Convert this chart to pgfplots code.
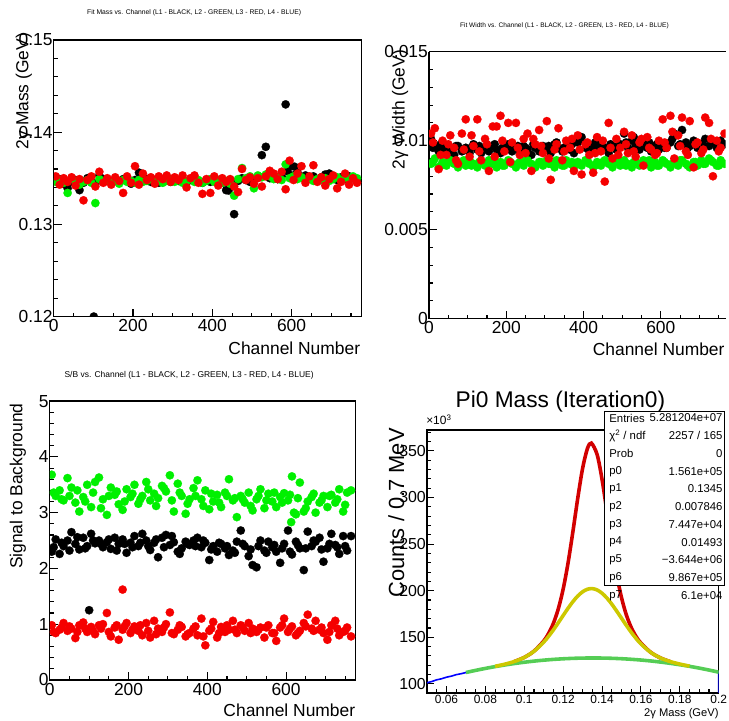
\documentclass[border=0pt]{standalone}
\usepackage{pgfplots}
\pgfplotsset{compat=1.18}
\usepackage{pgfplotstable}
\usepackage{fontspec}
\setmainfont{Liberation Sans}

\definecolor{rgreen}{RGB}{0,240,0}
\definecolor{rred}{RGB}{245,0,0}
\definecolor{fred}{RGB}{210,0,0}
\definecolor{fyel}{RGB}{205,200,0}
\definecolor{fgrn}{RGB}{85,205,85}
\definecolor{fblu}{RGB}{0,0,255}

\newcommand\fbig{\fontsize{17.5}{21}\selectfont}

\pgfplotstableread{
x k g r
5 0.1347 0.1346 0.1352
15 0.1349 0.1348 0.1343
25 0.1344 0.1345 0.1350
35 0.1339 0.1334 0.1346
45 0.1346 0.1349 0.1351
55 0.1348 0.1347 0.1342
65 0.1337 0.1343 0.1349
75 0.1345 0.1346 0.1326
85 0.1350 0.1348 0.1348
95 0.1346 0.1345 0.1352
105 0.1344 0.1323 0.1341
115 0.1353 0.1349 0.1357
125 0.1349 0.1346 0.1345
135 0.1347 0.1348 0.1350
145 0.1345 0.1345 0.1343
155 0.1348 0.1347 0.1351
165 0.1346 0.1344 0.1347
175 0.1349 0.1348 0.1334
185 0.1347 0.1346 0.1352
195 0.1344 0.1347 0.1345
205 0.1348 0.1345 0.1363
215 0.1356 0.1348 0.1343
225 0.1347 0.1346 0.1355
235 0.1349 0.1347 0.1348
245 0.1346 0.1349 0.1351
255 0.1348 0.1346 0.1344
265 0.1345 0.1348 0.1352
275 0.1347 0.1345 0.1349
285 0.1349 0.1347 0.1353
295 0.1346 0.1349 0.1346
305 0.1348 0.1346 0.1351
315 0.1347 0.1348 0.1348
325 0.1349 0.1345 0.1353
335 0.1346 0.1347 0.1340
345 0.1348 0.1349 0.1350
355 0.1350 0.1346 0.1353
365 0.1347 0.1348 0.1345
375 0.1345 0.1345 0.1333
385 0.1348 0.1347 0.1349
395 0.1346 0.1349 0.1334
405 0.1349 0.1346 0.1352
415 0.1347 0.1348 0.1342
425 0.1345 0.1345 0.1350
435 0.1337 0.1347 0.1346
445 0.1348 0.1344 0.1349
455 0.1311 0.1331 0.1341
465 0.1347 0.1349 0.1335
475 0.1350 0.1361 0.1360
485 0.1348 0.1350 0.1348
495 0.1346 0.1352 0.1351
505 0.1349 0.1339 0.1344
515 0.1352 0.1353 0.1350
525 0.1375 0.1351 0.1341
535 0.1384 0.1354 0.1352
545 0.1350 0.1352 0.1358
555 0.1353 0.1349 0.1355
565 0.1349 0.1351 0.1349
575 0.1352 0.1348 0.1357
585 0.1430 0.1365 0.1338
595 0.1363 0.1350 0.1369
605 0.1353 0.1352 0.1348
615 0.1356 0.1349 0.1355
625 0.1351 0.1351 0.1363
635 0.1353 0.1348 0.1345
645 0.1350 0.1350 0.1352
655 0.1352 0.1347 0.1364
665 0.1349 0.1349 0.1346
675 0.1351 0.1348 0.1351
685 0.1354 0.1350 0.1342
695 0.1355 0.1347 0.1349
705 0.1350 0.1349 0.1353
715 0.1348 0.1351 0.1339
725 0.1351 0.1348 0.1346
735 0.1349 0.1350 0.1355
745 0.1352 0.1349 0.1343
755 0.1350 0.1352 0.1350
765 0.1348 0.1350 0.1345
}\massdata

\pgfplotstableread{
x k g r
5 0.0101 0.0087 0.0104
15 0.0097 0.0090 0.0107
25 0.0094 0.0085 0.0084
35 0.0096 0.0088 0.0100
45 0.0093 0.0086 0.0092
55 0.0095 0.0089 0.0103
65 0.0092 0.0087 0.0096
75 0.0097 0.0085 0.0087
85 0.0094 0.0088 0.0104
95 0.0096 0.0086 0.0112
105 0.0093 0.0089 0.0091
115 0.0098 0.0087 0.0097
125 0.0095 0.0085 0.0112
135 0.0093 0.0088 0.0089
145 0.0096 0.0086 0.0101
155 0.0094 0.0089 0.0083
165 0.0097 0.0087 0.0108
175 0.0095 0.0085 0.0108
185 0.0093 0.0088 0.0114
195 0.0096 0.0086 0.0094
205 0.0098 0.0089 0.0110
215 0.0094 0.0087 0.0099
225 0.0096 0.0085 0.0110
235 0.0093 0.0088 0.0092
245 0.0097 0.0086 0.0101
255 0.0095 0.0089 0.0104
265 0.0092 0.0087 0.0083
275 0.0096 0.0085 0.0098
285 0.0094 0.0088 0.0106
295 0.0097 0.0086 0.0093
305 0.0095 0.0089 0.0111
315 0.0093 0.0087 0.0078
325 0.0098 0.0085 0.0095
335 0.0096 0.0088 0.0107
345 0.0094 0.0086 0.0089
355 0.0097 0.0089 0.0100
365 0.0095 0.0087 0.0096
375 0.0093 0.0085 0.0083
385 0.0099 0.0088 0.0103
395 0.0102 0.0086 0.0081
405 0.0096 0.0089 0.0098
415 0.0094 0.0087 0.0092
425 0.0097 0.0085 0.0082
435 0.0095 0.0088 0.0102
445 0.0098 0.0086 0.0094
455 0.0096 0.0089 0.0077
465 0.0093 0.0087 0.0110
475 0.0097 0.0085 0.0090
485 0.0095 0.0088 0.0101
495 0.0098 0.0086 0.0096
505 0.0104 0.0089 0.0105
515 0.0096 0.0087 0.0093
525 0.0100 0.0085 0.0103
535 0.0097 0.0088 0.0091
545 0.0095 0.0086 0.0099
555 0.0099 0.0089 0.0086
565 0.0096 0.0087 0.0102
575 0.0094 0.0085 0.0095
585 0.0097 0.0088 0.0092
595 0.0095 0.0086 0.0100
605 0.0098 0.0089 0.0112
615 0.0096 0.0087 0.0096
625 0.0099 0.0085 0.0114
635 0.0104 0.0088 0.0090
645 0.0097 0.0086 0.0103
655 0.0106 0.0089 0.0113
665 0.0099 0.0087 0.0094
675 0.0097 0.0085 0.0111
685 0.0100 0.0088 0.0085
695 0.0096 0.0086 0.0099
705 0.0098 0.0089 0.0093
715 0.0101 0.0087 0.0113
725 0.0097 0.0090 0.0110
735 0.0099 0.0088 0.0080
745 0.0096 0.0086 0.0100
755 0.0100 0.0089 0.0096
765 0.0098 0.0087 0.0104
}\widthdata

\pgfplotstableread{
x k g r
10 0.0096 0.0088 0.0099
30 0.0098 0.0086 0.0092
50 0.0095 0.0088 0.0098
70 0.0097 0.0087 0.0089
90 0.0095 0.0089 0.0095
110 0.0096 0.0086 0.0103
130 0.0097 0.0088 0.0094
150 0.0095 0.0087 0.0098
170 0.0098 0.0089 0.0091
190 0.0096 0.0086 0.0100
210 0.0095 0.0088 0.0088
230 0.0097 0.0087 0.0096
250 0.0096 0.0089 0.0093
270 0.0098 0.0086 0.0101
290 0.0095 0.0088 0.0097
310 0.0097 0.0087 0.0090
330 0.0099 0.0089 0.0098
350 0.0096 0.0086 0.0094
370 0.0098 0.0088 0.0101
390 0.0100 0.0087 0.0095
410 0.0097 0.0089 0.0099
430 0.0099 0.0086 0.0093
450 0.0096 0.0088 0.0100
470 0.0098 0.0087 0.0096
490 0.0097 0.0089 0.0092
510 0.0099 0.0086 0.0098
530 0.0102 0.0088 0.0094
550 0.0097 0.0087 0.0101
570 0.0099 0.0089 0.0096
590 0.0098 0.0086 0.0093
610 0.0096 0.0088 0.0099
630 0.0101 0.0087 0.0105
650 0.0098 0.0089 0.0097
670 0.0096 0.0086 0.0092
690 0.0099 0.0088 0.0098
710 0.0097 0.0087 0.0095
730 0.0100 0.0089 0.0101
750 0.0098 0.0086 0.0094
}\widthdatab

\pgfplotstableread{
x k g r
5 2.30 3.68 0.98
15 2.52 3.30 0.84
25 2.26 3.40 0.90
35 2.40 3.22 1.02
45 2.50 3.62 0.88
55 2.65 3.45 0.92
65 2.44 3.18 0.75
75 2.34 3.02 0.98
85 2.55 3.28 1.03
95 2.40 3.50 0.86
105 2.62 3.10 0.95
115 2.45 3.55 0.82
125 2.50 3.63 0.98
135 2.38 3.24 1.00
145 2.47 2.96 1.20
155 2.35 3.45 0.78
165 2.55 3.32 0.94
175 2.44 3.15 0.72
185 2.52 3.05 0.90
195 2.28 3.42 1.02
205 2.46 3.28 0.84
215 2.58 3.50 0.96
225 2.40 3.16 0.88
235 2.62 3.30 0.80
245 2.50 3.55 1.02
255 2.33 3.22 0.76
265 2.46 3.34 1.06
275 2.20 3.26 0.92
285 2.55 3.48 0.86
295 2.60 3.38 1.00
305 2.42 3.67 1.21
315 2.47 3.02 0.82
325 2.30 3.52 0.90
335 2.36 3.30 0.95
345 2.48 2.98 0.78
355 2.42 3.24 0.84
365 2.50 3.44 0.92
375 2.55 3.58 0.80
385 2.38 3.24 1.10
395 2.46 3.40 0.62
405 2.15 3.06 0.88
415 2.40 3.20 1.04
425 2.30 3.32 0.76
435 2.44 3.10 0.95
445 2.36 3.36 0.86
455 2.24 3.60 0.90
465 2.32 3.22 1.06
475 2.48 2.92 0.84
485 2.68 3.30 0.98
495 2.40 3.18 0.88
505 2.22 3.36 1.02
515 2.06 3.04 0.92
525 2.02 3.24 0.86
535 2.50 3.42 0.94
545 2.32 3.08 0.76
555 2.48 3.34 0.98
565 2.38 3.20 0.84
575 2.30 3.10 0.70
585 2.10 3.28 0.94
595 2.44 3.35 1.10
605 2.68 3.22 0.86
615 2.25 3.65 0.96
625 2.48 2.97 0.80
635 2.36 3.54 0.88
645 1.97 3.02 1.02
655 2.66 3.20 1.17
665 2.40 3.28 0.92
675 2.48 3.00 1.06
685 2.55 3.18 0.90
695 2.12 3.30 0.84
705 2.36 3.10 0.72
715 2.62 3.32 0.98
725 2.42 3.18 1.06
735 2.26 3.42 0.80
745 2.58 3.02 0.86
755 2.32 3.36 0.94
765 2.58 3.40 0.78
}\sbdata

\pgfplotstableread{
x k g r
10 2.38 3.36 0.86
30 2.46 3.24 0.94
50 2.32 3.30 0.96
70 2.56 3.40 0.86
90 2.36 3.20 0.92
110 2.50 3.36 0.88
130 2.44 3.08 0.92
150 2.52 3.30 0.86
170 2.32 3.38 0.98
190 2.44 3.20 0.96
210 2.38 3.34 0.90
230 2.46 3.24 0.98
250 2.40 3.42 0.88
270 2.52 3.12 0.82
290 2.38 3.44 0.94
310 2.58 3.22 0.84
330 2.26 3.36 0.98
350 2.44 3.16 0.82
370 2.40 3.30 0.96
390 2.50 3.12 0.78
410 2.34 3.34 0.92
430 2.46 3.18 0.84
450 2.40 3.30 0.98
470 2.28 3.26 0.90
490 2.44 3.24 0.94
510 2.34 3.12 0.84
530 2.40 3.30 0.90
550 2.28 3.22 0.94
570 2.42 3.36 0.84
590 2.36 3.18 0.98
610 2.30 3.32 0.92
630 2.42 3.26 0.84
650 2.36 3.08 0.96
670 2.50 3.34 0.88
690 2.34 3.22 0.94
710 2.44 3.30 0.86
730 2.38 3.24 0.92
750 2.40 3.14 0.88
}\sbdatab

\pgfplotstableread{
x y
0.05 101.2
0.0525 102.6
0.055 104.4
0.0575 105.5
0.06 107.2
0.0625 108.3
0.065 109.9
0.0675 110.9
0.07 112.2
0.075 114.5
0.08 116.7
0.085 118.8
0.09 121.2
0.095 124.1
0.1 128.4
0.105 135.1
0.11 146.0
0.1125 154.1
0.115 165.1
0.1175 180.5
0.12 201.7
0.1225 229.6
0.125 263.2
0.1275 299.1
0.13 331.3
0.1325 352.7
0.1345 358.4
0.1375 345.9
0.14 319.4
0.1425 284.9
0.145 249.4
0.1475 217.8
0.15 192.7
0.1525 174.0
0.155 160.5
0.1575 150.9
0.16 143.7
0.165 133.9
0.17 127.8
0.175 124.0
0.18 121.3
0.185 119.1
0.19 117.0
0.195 114.9
0.2 112.6
0.2 85
}\histdata

\pgfplotstableread{
x y
0.07 112.21
0.075 114.51
0.08 116.61
0.085 118.54
0.09 120.29
0.095 121.85
0.1 123.23
0.105 124.43
0.11 125.45
0.115 126.28
0.12 126.93
0.125 127.40
0.13 127.69
0.135 127.79
0.14 127.72
0.145 127.46
0.15 127.02
0.155 126.39
0.16 125.59
0.165 124.60
0.17 123.43
0.175 122.08
0.18 120.54
0.185 118.82
0.19 116.93
0.195 114.84
0.2 112.58
}\bkgdata

\pgfplotstableread{
x y
0.085 118.85
0.09 121.16
0.095 124.10
0.1 128.39
0.105 135.00
0.11 144.83
0.1125 151.04
0.115 158.01
0.1175 165.58
0.12 173.40
0.1225 181.11
0.125 188.23
0.1275 194.29
0.13 198.85
0.1325 201.57
0.135 202.22
0.1375 200.76
0.14 197.30
0.1425 192.12
0.145 185.61
0.1475 178.23
0.15 170.47
0.1525 162.74
0.155 155.40
0.1575 148.74
0.16 142.91
0.165 133.84
0.17 127.84
0.175 123.96
0.18 121.26
0.185 119.07
}\broaddata

\pgfplotstableread{
x y
0.095 124.10
0.1 128.40
0.105 135.13
0.11 146.02
0.1125 154.10
0.115 165.13
0.1175 180.50
0.12 201.70
0.1225 229.58
0.125 263.24
0.1275 299.14
0.13 331.27
0.1325 352.68
0.1345 358.36
0.1375 345.86
0.14 319.40
0.1425 284.94
0.145 249.36
0.1475 217.79
0.15 192.65
0.1525 173.97
0.155 160.54
0.1575 150.86
0.16 143.70
0.165 133.92
0.17 127.84
0.175 123.96
}\totaldata

\pgfplotsset{
  rootax/.style={
    scale only axis, anchor=south west,
    axis line style={line width=1.4pt},
    tick align=inside, tick pos=left,
    major tick length=8pt, minor tick length=4pt,
    tick style={black, line width=1.1pt},
    scaled ticks=false,
    /pgf/number format/assume math mode=true,
    ticklabel style={font=\fbig},
    yticklabel style={inner sep=1pt},
    xticklabel style={inner sep=3pt},
    clip marker paths=true,
  },
  chax/.style={rootax, xmin=0, xmax=776,
    xtick={0,200,400,600}, xticklabels={0,200,400,600},
    minor xtick={50,100,...,750}},
  dots/.style={only marks, mark=*, mark size=4.2pt, color=#1,
    mark options={solid, fill=#1, draw=#1, line width=0.2pt}},
}

\begin{document}
\begin{tikzpicture}[x=1pt,y=1pt]
\path (0,0) rectangle (729,724);

% Panel 1: Fit mass
\begin{axis}[chax, at={(54pt,406pt)}, width=309pt, height=278pt,
  ymin=0.12, ymax=0.15,
  ytick={0.12,0.13,0.14,0.15}, yticklabels={0.12,0.13,0.14,0.15},
  minor ytick={0.122,0.124,0.126,0.128,0.132,0.134,0.136,0.138,0.142,0.144,0.146,0.148}]
\addplot[dots=black] table[x=x,y=k] {\massdata};
\addplot[dots=black] coordinates {(101,0.1200) (590,0.13575) (607,0.13625) (441,0.13366)};
\addplot[dots=rgreen] table[x=x,y=g] {\massdata};
\addplot[dots=rred] table[x=x,y=r] {\massdata};
\end{axis}

% Panel 2: Fit width (right frame lies outside the picture)
\begin{axis}[chax, at={(431pt,404pt)}, width=298pt, height=268pt,
  xmax=768, axis y line*=left,
  ymin=0, ymax=0.015,
  ytick={0,0.005,0.01,0.015}, yticklabels={0,0.005,0.01,0.015},
  minor ytick={0.001,0.002,0.003,0.004,0.006,0.007,0.008,0.009,0.011,0.012,0.013,0.014}]
\addplot[dots=black] table[x=x,y=k] {\widthdata};
\addplot[dots=black] table[x=x,y=k] {\widthdatab};
\addplot[dots=rgreen] table[x=x,y=g] {\widthdata};
\addplot[dots=rgreen] table[x=x,y=g] {\widthdatab};
\addplot[dots=rred] table[x=x,y=r] {\widthdata};
\addplot[dots=rred] table[x=x,y=r] {\widthdatab};
\end{axis}

% Panel 3: S/B
\begin{axis}[chax, at={(50pt,41pt)}, width=307pt, height=280pt,
  ymin=0, ymax=5,
  ytick={0,1,2,3,4,5}, yticklabels={0,1,2,3,4,5},
  minor ytick={0.2,0.4,0.6,0.8,1.2,1.4,1.6,1.8,2.2,2.4,2.6,2.8,3.2,3.4,3.6,3.8,4.2,4.4,4.6,4.8}]
\addplot[dots=black] table[x=x,y=k] {\sbdata};
\addplot[dots=black] table[x=x,y=k] {\sbdatab};
\addplot[dots=black] coordinates {(100,1.25)};
\addplot[dots=rgreen] table[x=x,y=g] {\sbdata};
\addplot[dots=rgreen] table[x=x,y=g] {\sbdatab};
\addplot[dots=rgreen] coordinates {(613,2.83) (620,3.0)};
\addplot[dots=rred] table[x=x,y=r] {\sbdata};
\addplot[dots=rred] table[x=x,y=r] {\sbdatab};
\addplot[dots=rred] coordinates {(185,1.62)};
\end{axis}

% Panel 4: Pi0 mass
\begin{axis}[rootax, at={(429pt,28pt)}, width=293pt, height=264pt,
  xmin=0.05, xmax=0.2, ymin=90.4, ymax=372.4,
  xtick={0.06,0.08,0.1,0.12,0.14,0.16,0.18,0.2},
  xticklabels={0.06,0.08,0.1,0.12,0.14,0.16,0.18,0.2},
  minor xtick={0.055,0.065,0.07,0.075,0.085,0.09,0.095,0.105,0.11,0.115,0.125,0.13,0.135,0.145,0.15,0.155,0.165,0.17,0.175,0.185,0.19,0.195},
  ytick={100,150,200,250,300,350}, yticklabels={100,150,200,250,300,350},
  minor ytick={110,120,130,140,160,170,180,190,210,220,230,240,260,270,280,290,310,320,330,340,360,370},
  xticklabel style={font=\fontsize{12}{14}\selectfont, inner sep=2pt},
  yticklabel style={font=\fontsize{16}{18}\selectfont},
  major tick length=7pt, minor tick length=3.5pt]
\addplot[fblu, line width=1.6pt] table {\histdata};
\addplot[fred, line width=3.6pt, smooth] table {\totaldata};
\addplot[fgrn, line width=3.6pt, smooth] table {\bkgdata};
\addplot[fyel, line width=3.6pt, smooth] table {\broaddata};
\end{axis}

% Titles and labels
\node[font=\fontsize{6.8}{8}\selectfont] at (195,711) {Fit Mass vs. Channel (L1 - BLACK, L2 - GREEN, L3 - RED, L4 - BLUE)};
\node[font=\fontsize{6.6}{8}\selectfont] at (567,698) {Fit Width vs. Channel (L1 - BLACK, L2 - GREEN, L3 - RED, L4 - BLUE)};
\node[font=\fontsize{8.5}{10}\selectfont] at (190,347) {S/B vs. Channel (L1 - BLACK, L2 - GREEN, L3 - RED, L4 - BLUE)};

\node[font=\fbig, anchor=east, inner sep=0pt] at (362,374) {Channel Number};
\node[font=\fbig, anchor=east, inner sep=0pt] at (728,373) {Channel Number};
\node[font=\fbig, anchor=east, inner sep=0pt] at (357,10) {Channel Number};

\node[font=\fbig, rotate=90, anchor=east, inner sep=0pt] at (24,691) {2γ Mass (GeV)};
\node[font=\fbig, rotate=90, anchor=east, inner sep=0pt] at (402,674) {2γ Width (GeV)};
\node[font=\fbig, rotate=90, anchor=east, inner sep=0pt] at (18,319) {Signal to Background};

\node[font=\fontsize{22.8}{26}\selectfont] at (563,321) {Pi0 Mass (Iteration0)};
\node[font=\fontsize{22}{26}\selectfont, rotate=90, anchor=east, inner sep=0pt] at (398,294) {Counts / 0.7 MeV};
\node[font=\fontsize{12}{14}\selectfont, anchor=west, inner sep=0pt] at (428,302) {×10\textsuperscript{3}};
\node[font=\fontsize{11.2}{13}\selectfont, anchor=east, inner sep=0pt] at (722,7) {2γ Mass (GeV)};

% Stats box
\filldraw[fill=white, draw=black, line width=0.9pt] (607,136) rectangle (728,311);
\begin{scope}[every node/.style={font=\fontsize{11.4}{13}\selectfont, inner sep=0pt}]
\node[anchor=west] at (612,304) {Entries};
\node[anchor=east] at (726,304) {5.281204e+07};
\node[anchor=west] at (612,286.2) {χ\textsuperscript{2} / ndf};
\node[anchor=east] at (726,286.2) {2257 / 165};
\node[anchor=west] at (612,268.4) {Prob};
\node[anchor=east] at (726,268.4) {0};
\node[anchor=west] at (612,250.6) {p0};
\node[anchor=east] at (726,250.6) {1.561e+05};
\node[anchor=west] at (612,232.8) {p1};
\node[anchor=east] at (726,232.8) {0.1345};
\node[anchor=west] at (612,215.0) {p2};
\node[anchor=east] at (726,215.0) {0.007846};
\node[anchor=west] at (612,197.2) {p3};
\node[anchor=east] at (726,197.2) {7.447e+04};
\node[anchor=west] at (612,179.4) {p4};
\node[anchor=east] at (726,179.4) {0.01493};
\node[anchor=west] at (612,161.6) {p5};
\node[anchor=east] at (726,161.6) {−3.644e+06};
\node[anchor=west] at (612,143.8) {p6};
\node[anchor=east] at (726,143.8) {9.867e+05};
\node[anchor=west] at (612,126.0) {p7};
\node[anchor=east] at (726,126.0) {6.1e+04};
\end{scope}
\end{tikzpicture}
\end{document}
